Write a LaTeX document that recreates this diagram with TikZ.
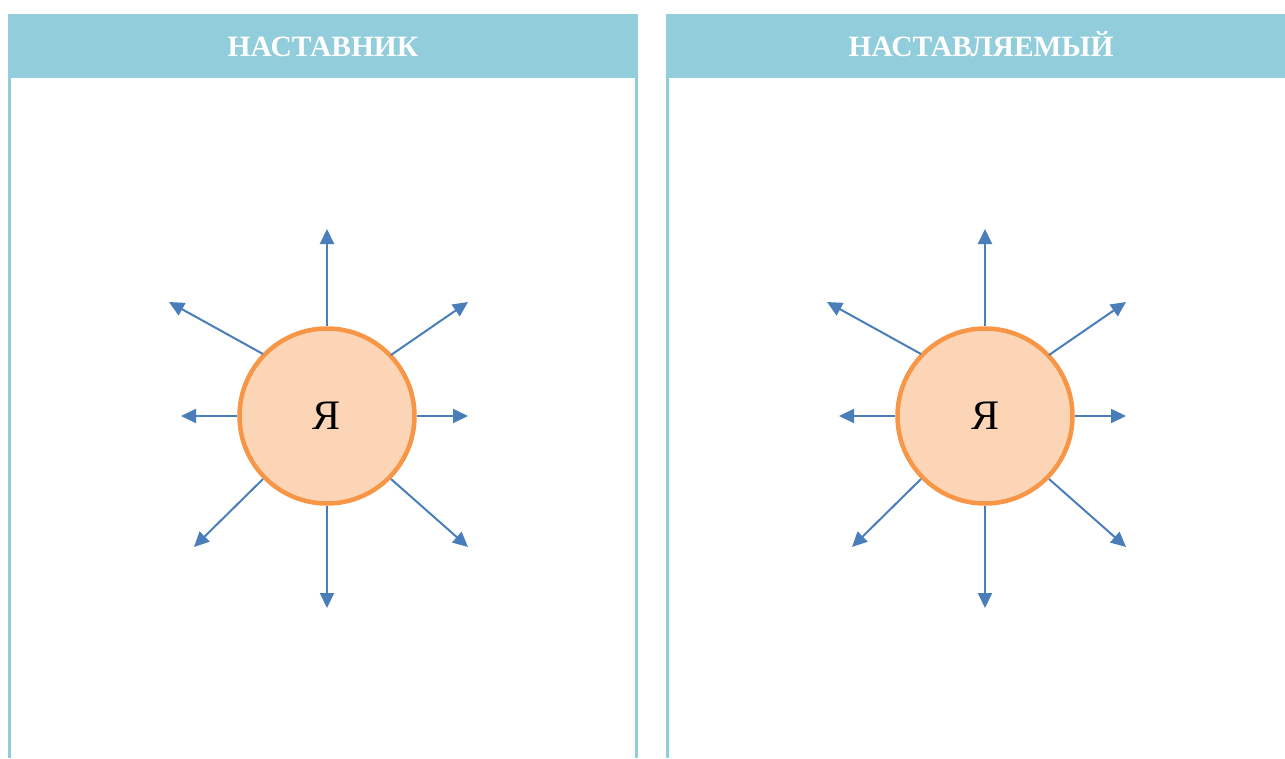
\documentclass[tikz,border=0pt]{standalone}
\usepackage{fontspec}
\setmainfont{Liberation Serif}
\usetikzlibrary{arrows.meta}
\definecolor{hdr}{HTML}{92CDDC}
\definecolor{ring}{HTML}{F79646}
\definecolor{peach}{HTML}{FBD5B5}
\definecolor{arr}{HTML}{4A7EBB}
\tikzset{
  x=1pt, y=-1pt,
  header/.style={fill=hdr, draw=none},
  border/.style={draw=hdr, line width=3pt},
  htext/.style={text=white, font=\bfseries\fontsize{29.5}{31}\selectfont, inner sep=0pt, anchor=base},
  me/.style={circle, draw=ring, fill=peach, line width=4.5pt, minimum size=175pt, inner sep=0pt, font=\fontsize{42}{44}\selectfont},
  ray/.style={draw=arr, line width=2pt, -{Triangle[length=15pt,width=14pt]}},
}
\begin{document}
\begin{tikzpicture}
\useasboundingbox (0,0) rectangle (1285,758);
\fill[white] (0,0) rectangle (1285,758);
% left panel
\draw[border] (9.5,78) -- (9.5,758);
\draw[border] (636.5,78) -- (636.5,758);
\path[header] (8,14) rectangle (638,78);
\node[htext] (h1) at (323,56) {НАСТАВНИК};
% right panel
\draw[border] (667.5,78) -- (667.5,758);
\path[header] (666,14) rectangle (1285,78);
\node[htext] (h2) at (981,56) {НАСТАВЛЯЕМЫЙ};
% circles
\foreach \n/\cx in {a/327, b/985} {
  \node[me] (c\n) at (\cx,416) {Я};
  \coordinate (\n u) at (\cx,229);
  \coordinate (\n d) at (\cx,608);
  \coordinate (\n l) at (\cx-146,416);
  \coordinate (\n r) at (\cx+141,416);
  \coordinate (\n ul) at (\cx-158,302);
  \coordinate (\n ur) at (\cx+141,302);
  \coordinate (\n ll) at (\cx-133,547);
  \coordinate (\n lr) at (\cx+141,547);
  \draw[ray] (c\n.north) -- (\n u);
  \draw[ray] (c\n.south) -- (\n d);
  \draw[ray] (c\n.west) -- (\n l);
  \draw[ray] (c\n.east) -- (\n r);
  \draw[ray] (c\n) ++(-64,-62) -- (\n ul);
  \draw[ray] (c\n) ++(64,-61) -- (\n ur);
  \draw[ray] (c\n) ++(-64,63) -- (\n ll);
  \draw[ray] (c\n) ++(64,63) -- (\n lr);
}
\end{tikzpicture}
\end{document}
